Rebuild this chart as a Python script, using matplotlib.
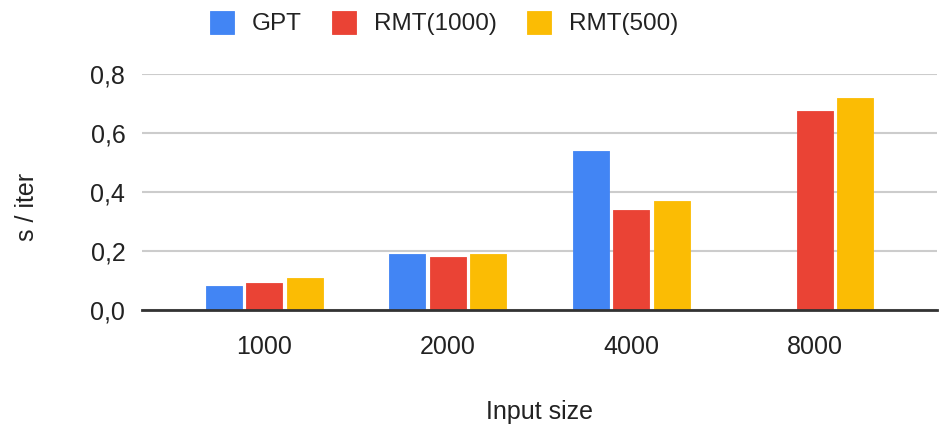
import matplotlib
matplotlib.use("Agg")
import matplotlib.pyplot as plt
import numpy as np

categories = ["1000", "2000", "4000", "8000"]
series_names = ["GPT", "RMT(1000)", "RMT(500)"]
gpt = [0.08, 0.19, 0.54, np.nan]
rmt1000 = [0.09, 0.18, 0.34, 0.675]
rmt500 = [0.11, 0.19, 0.37, 0.72]
yticks = [0.0, 0.2, 0.4, 0.6, 0.8]
ytick_labels = ["0,0", "0,2", "0,4", "0,6", "0,8"]
colors = ["#4285F4", "#EA4335", "#FBBC04"]

plt.rcParams['font.family'] = ['Liberation Sans', 'DejaVu Sans']

W, H = 946, 433
fig = plt.figure(figsize=(W / 100, H / 100), dpi=100)
ax = fig.add_axes([142 / W, 1 - 310 / H, (937 - 142) / W, (310 - 74) / H])

FS = 18
x = np.arange(len(categories))
width = 0.198
offsets = [-0.221, 0.0, 0.221]
for vals, name, c, off in zip([gpt, rmt1000, rmt500], series_names, colors, offsets):
    ax.bar(x + off, vals, width, color=c, label=name, zorder=3,
           edgecolor=c, linewidth=0.6, joinstyle='round')

ax.set_xlim(-2 / 3, 3 + 2 / 3)
ax.set_ylim(0, 0.8)
ax.set_yticks(yticks)
ax.set_yticklabels(ytick_labels)
ax.set_xticks(x)
ax.set_xticklabels(categories)
ax.tick_params(axis='both', length=0, labelsize=FS, colors='#222222')
ax.tick_params(axis='y', pad=12)
ax.tick_params(axis='x', pad=18)
ax.grid(axis='y', color='#cccccc', linewidth=1.5, zorder=0)
for s in ['top', 'right', 'left']:
    ax.spines[s].set_visible(False)
ax.spines['bottom'].set_color('#333333')
ax.spines['bottom'].set_linewidth(2)
ax.spines['bottom'].set_zorder(4)

fig.text(27 / W, 1 - 207 / H, "s / iter", rotation=90, ha='center', va='center',
         fontsize=FS, color='#222222')
fig.text(539.5 / W, 1 - 412 / H, "Input size", ha='center', va='center',
         fontsize=FS, color='#222222')

leg = fig.legend(loc='center', bbox_to_anchor=(444 / W, 1 - 23 / H), ncol=3,
                 frameon=False, fontsize=17.5, handlelength=0.98, handleheight=1.08,
                 handletextpad=0.74, columnspacing=1.25, borderpad=0)
for t in leg.get_texts():
    t.set_color('#222222')

fig.savefig("out.png", dpi=100)
